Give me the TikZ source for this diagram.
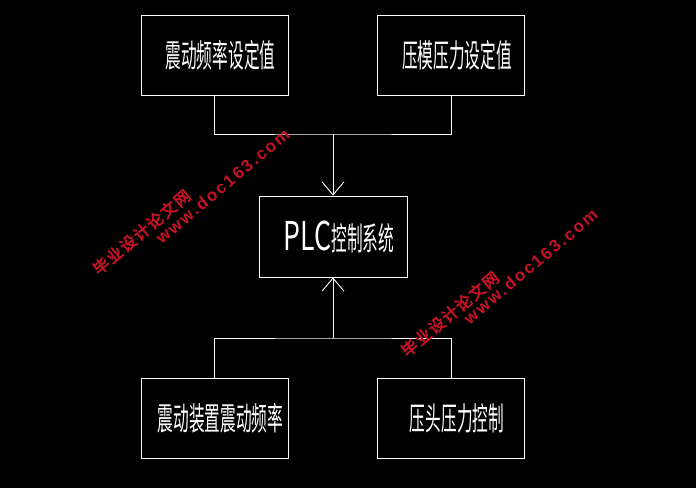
\documentclass[tikz,border=0pt]{standalone}
\usepackage{fontspec}
\usetikzlibrary{arrows.meta,positioning}
\newfontfamily\cadfont{Noto Sans CJK SC}
\newfontfamily\markfont[AutoFakeBold=3.5,LetterSpace=10]{Noto Sans CJK SC}
\newfontfamily\urlfont[LetterSpace=12]{Liberation Sans}
\definecolor{markred}{RGB}{196,18,36}

\newcommand{\blockWidth}{147pt}
\newcommand{\blockHeight}{80pt}
\newcommand{\blockHGap}{236.5pt}
\newcommand{\blockVGap}{363pt}
\newcommand{\cadtext}[1]{\hspace*{12pt}\scalebox{0.49}[1]{\cadfont\fontsize{32}{32}\selectfont #1}}
\tikzset{
  bd block/.style={draw=white, line width=0.9pt, rectangle, text=white,
    minimum width=\blockWidth, minimum height=\blockHeight, inner sep=0pt},
  bd line/.style={draw=white, line width=0.9pt},
  bd arrow/.style={bd line, -{Straight Barb[length=13pt,width=22pt,line width=0.9pt]}},
  bd mark/.style={text=markred, rotate=40, inner sep=0pt},
}

\begin{document}
\begin{tikzpicture}[x=1pt, y=-1pt, node distance=\blockHGap]
\fill[black] (0,0) rectangle (696,488);
\useasboundingbox (0,0) rectangle (696,488);

% set values
\node (setfreq) [bd block] at (214.5,55) {\cadtext{震动频率设定值}};
\node (setpress) [bd block, right of=setfreq] {\cadtext{压模压力设定值}};

% controller
\node (plc) [bd block, minimum width=148pt, minimum height=81pt] at (333,236.5)
  {\cadtext{\scalebox{1.7}[1.24]{PLC}控制系统}};

% outputs
\node (vibfreq) [bd block, below of=setfreq, node distance=\blockVGap] {\cadtext{震动装置震动频率}};
\node (headpress) [bd block, right of=vibfreq] {\cadtext{压头压力控制}};

\coordinate (mergetop) at (333,134);
\coordinate (mergebot) at (333,338);

\draw [bd line] (setfreq.south) |- (mergetop) -| (setpress.south);
\draw [bd arrow] (mergetop) -- (plc.north);
\draw [bd line] (vibfreq.north) |- (mergebot) -| (headpress.north);
\draw [bd arrow] (mergebot) -- (plc.south);

% watermarks
\node (mark1a) [bd mark] at (141.5,232) {\markfont\bfseries\fontsize{16}{16}\selectfont 毕业设计论文网};
\node (mark1b) [bd mark] at (222.5,186) {\urlfont\bfseries\fontsize{17}{17}\selectfont www.doc163.com};
\node (mark2a) [bd mark] at (450,314) {\markfont\bfseries\fontsize{16}{16}\selectfont 毕业设计论文网};
\node (mark2b) [bd mark] at (530.5,266.5) {\urlfont\bfseries\fontsize{17}{17}\selectfont www.doc163.com};
\end{tikzpicture}
\end{document}
